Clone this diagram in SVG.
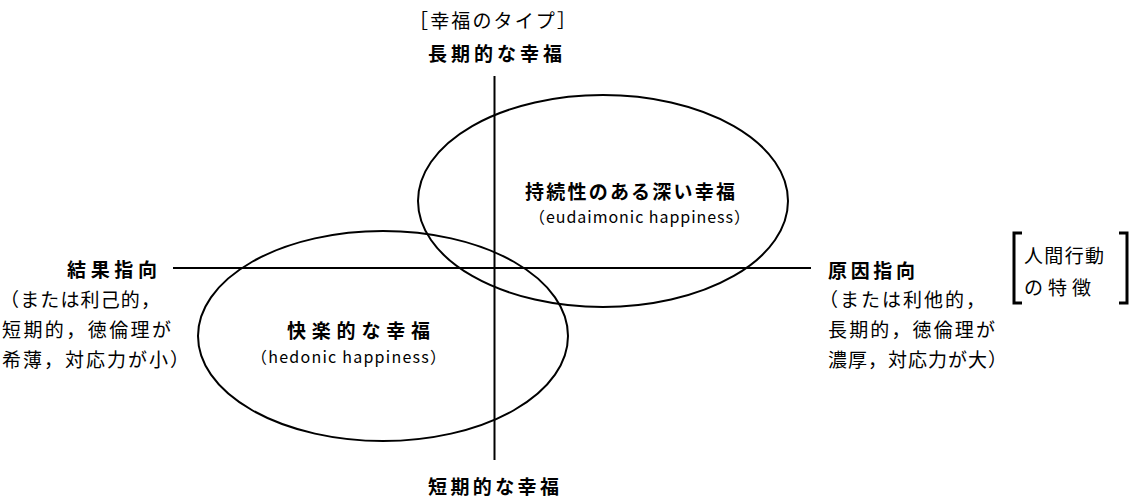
<svg xmlns="http://www.w3.org/2000/svg" width="1131" height="500" viewBox="0 0 1131 500">
<style>
.t{font-family:"Noto Sans CJK JP","Noto Sans",sans-serif;fill:#000}
.n{font-size:19px;font-weight:normal}
.b{font-size:19px;font-weight:bold}
.l{font-size:16px;font-weight:normal}
.ln{stroke:#000;stroke-width:2;fill:none}
</style>
<rect width="1131" height="500" fill="#fff"/>
<g id="connectors">
<line class="ln" x1="494.5" y1="76" x2="494.5" y2="460"/>
<line class="ln" x1="173" y1="268" x2="811" y2="268"/>
</g>
<g id="eudaimonic">
<ellipse class="ln" cx="603" cy="201" rx="185" ry="106"/>
<text class="t b" x="525" y="199" textLength="210" lengthAdjust="spacing">持続性のある深い幸福</text>
<text class="t l" x="529" y="223" textLength="221" lengthAdjust="spacing">（eudaimonic happiness）</text>
</g>
<g id="hedonic">
<ellipse class="ln" cx="383" cy="336" rx="185" ry="105"/>
<text class="t b" x="287" y="338" textLength="143" lengthAdjust="spacing">快楽的な幸福</text>
<text class="t l" x="251" y="363" textLength="195" lengthAdjust="spacing">（hedonic happiness）</text>
</g>
<g id="top-label">
<text class="t n" x="409" y="28" textLength="167" lengthAdjust="spacing">［幸福のタイプ］</text>
<text class="t b" x="428" y="61" textLength="134" lengthAdjust="spacing">長期的な幸福</text>
</g>
<g id="bottom-label">
<text class="t b" x="428" y="494" textLength="131" lengthAdjust="spacing">短期的な幸福</text>
</g>
<g id="left-label">
<text class="t b" x="67" y="277" textLength="90" lengthAdjust="spacing">結果指向</text>
<text class="t n" x="0" y="307" textLength="160" lengthAdjust="spacing">（または利己的，</text>
<text class="t n" x="2" y="337" textLength="169" lengthAdjust="spacing">短期的，徳倫理が</text>
<text class="t n" x="2" y="367" textLength="187" lengthAdjust="spacing">希薄，対応力が小）</text>
</g>
<g id="right-label">
<text class="t b" x="828" y="278" textLength="87" lengthAdjust="spacing">原因指向</text>
<text class="t n" x="819" y="307" textLength="166" lengthAdjust="spacing">（または利他的，</text>
<text class="t n" x="828" y="337" textLength="167" lengthAdjust="spacing">長期的，徳倫理が</text>
<text class="t n" x="828" y="367" textLength="179" lengthAdjust="spacing">濃厚，対応力が大）</text>
</g>
<g id="human-behavior">
<path d="M1022,233 H1014 V303 H1022" stroke="#000" stroke-width="3" fill="none"/>
<path d="M1119,233 H1127 V303 H1119" stroke="#000" stroke-width="3" fill="none"/>
<text class="t n" x="1024" y="263" textLength="80" lengthAdjust="spacing">人間行動</text>
<text class="t n" x="1024" y="295" textLength="67" lengthAdjust="spacing">の特徴</text>
</g>
</svg>
